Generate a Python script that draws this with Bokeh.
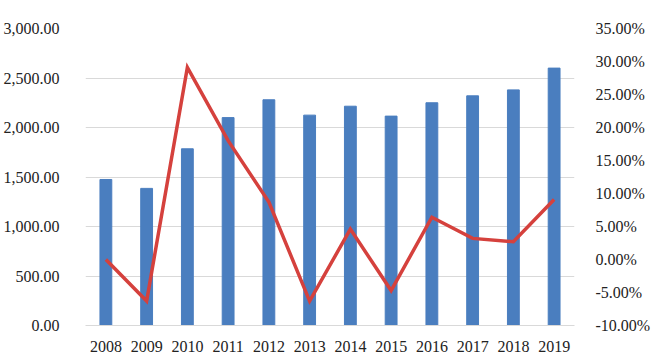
from bokeh.plotting import figure
from bokeh.models import Range1d, LinearAxis, FixedTicker, NumeralTickFormatter
from bokeh.embed import file_html
from bokeh.resources import INLINE

years = ["2008", "2009", "2010", "2011", "2012", "2013", "2014", "2015", "2016", "2017", "2018", "2019"]
values = [1475, 1385, 1785, 2100, 2280, 2125, 2215, 2115, 2250, 2320, 2380, 2600]
growth = [0.000, -0.063, 0.291, 0.180, 0.087, -0.063, 0.046, -0.047, 0.064, 0.032, 0.027, 0.091]
left_ticks = [0, 500, 1000, 1500, 2000, 2500, 3000]
right_ticks = [-0.10, -0.05, 0.0, 0.05, 0.10, 0.15, 0.20, 0.25, 0.30, 0.35]

FONT = "Liberation Serif"

p = figure(x_range=years, y_range=Range1d(0, 3000), width=659, height=354,
           output_backend="svg", toolbar_location=None,
           min_border_left=82, min_border_right=85, min_border_top=28, min_border_bottom=27)
p.extra_y_ranges = {"pct": Range1d(-0.10, 0.35)}
p.x_range.range_padding = 0

p.vbar(x=years, top=values, width=0.29, color="#4a7ebf")
p.line(x=years, y=growth, y_range_name="pct", line_color="#d5413d", line_width=3.5,
       line_join="miter")

p.outline_line_color = None
p.xgrid.grid_line_color = None
p.ygrid.grid_line_color = "#d9d9d9"
p.ygrid.ticker = FixedTicker(ticks=left_ticks)

la = p.yaxis[0]
la.ticker = FixedTicker(ticks=left_ticks)
la.formatter = NumeralTickFormatter(format="0,0.00")
la.axis_line_color = None
la.major_tick_line_color = None
la.minor_tick_line_color = None
la.major_label_standoff = 20
la.major_label_text_font = FONT
la.major_label_text_font_size = "16px"
la.major_label_text_color = "#222222"

ra = LinearAxis(y_range_name="pct")
ra.ticker = FixedTicker(ticks=right_ticks)
ra.formatter = NumeralTickFormatter(format="0.00%")
ra.axis_line_color = None
ra.major_tick_line_color = None
ra.minor_tick_line_color = None
ra.major_label_standoff = 15
ra.major_label_text_font = FONT
ra.major_label_text_font_size = "16px"
ra.major_label_text_color = "#222222"
p.add_layout(ra, "right")

xa = p.xaxis[0]
xa.axis_line_color = "#d9d9d9"
xa.major_tick_line_color = None
xa.minor_tick_line_color = None
xa.major_label_standoff = 9
xa.major_label_text_font = FONT
xa.major_label_text_font_size = "16px"
xa.major_label_text_color = "#222222"

open("out.html", "w").write(file_html(p, INLINE))
